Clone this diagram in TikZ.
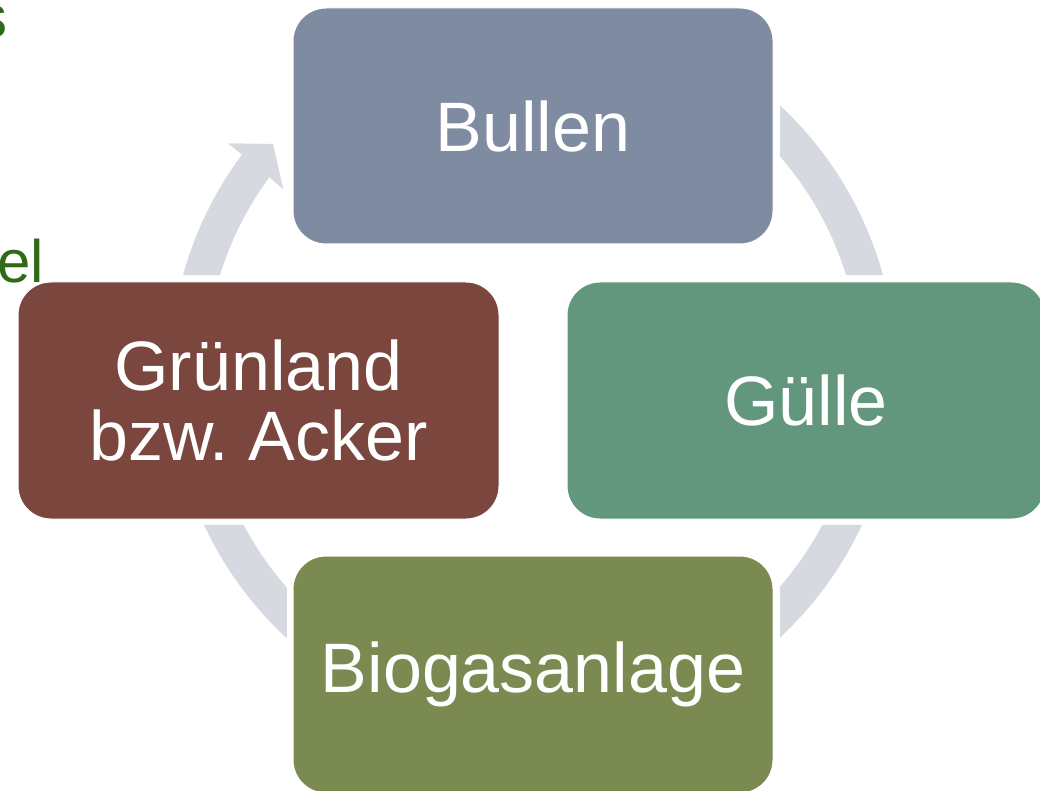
\documentclass[tikz,border=0pt]{standalone}
\usepackage{fontspec}
\setmainfont{Liberation Sans}
\usetikzlibrary{calc}
\definecolor{cBullen}{HTML}{7F8BA0}
\definecolor{cGuelle}{HTML}{62977D}
\definecolor{cGruen}{HTML}{7A463D}
\definecolor{cBio}{HTML}{7A8A50}
\definecolor{cRing}{HTML}{D6DAE0}
\definecolor{cGreenText}{HTML}{2F6A16}
\tikzset{
  box/.style={rectangle, rounded corners=33pt, draw=white, line width=1pt,
    text=white, align=center, inner sep=0pt,
    font=\fontsize{70}{70}\selectfont\frenchspacing},
  ring/.style={fill=cRing, draw=none},
  bgtext/.style={inner sep=0pt, text=cGreenText, font=\fontsize{60}{66}\selectfont}
}
\begin{document}
\begin{tikzpicture}[x=1pt,y=1pt]
\useasboundingbox (0,0) rectangle (1040,-791);
\clip (0,0) rectangle (1040,-791);
% background text fragments
\node[bgtext, anchor=base east] (s) at (8,-38) {s};
\node[bgtext, anchor=base east] (el) at (44,-283) {el};
% ring centre
\coordinate (C) at (533,-371.5);
% segment Bullen -> Guelle
\fill[ring] ($(C)+(47.1:363)$) arc[start angle=47.1, end angle=15.4, radius=363]
  -- ($(C)+(17.1:327.5)$) arc[start angle=17.1, end angle=41.05, radius=327.5] -- cycle;
% segment Guelle -> Biogas
\fill[ring] ($(C)+(-25:363)$) arc[start angle=-25, end angle=-47.1, radius=363]
  -- ($(C)+(-41.05:327.5)$) arc[start angle=-41.05, end angle=-27.95, radius=327.5] -- cycle;
% segment Biogas -> Gruenland
\fill[ring] ($(C)+(205:363)$) arc[start angle=205, end angle=227.3, radius=363]
  -- ($(C)+(221.3:327.5)$) arc[start angle=221.3, end angle=207.95, radius=327.5] -- cycle;
% segment Gruenland -> Bullen with arrow head
\fill[ring] ($(C)+(164.6:363)$) arc[start angle=164.6, end angle=143.3, radius=363]
  -- ($(C)+(143.2:381)$) -- ($(C)+(138.8:345.5)$) -- ($(C)+(143.9:309)$)
  -- ($(C)+(143.6:327.5)$) arc[start angle=143.6, end angle=162.9, radius=327.5] -- cycle;
% boxes
\node[box, fill=cBullen, minimum width=480pt, minimum height=236pt] (bullen) at (533,-126) {Bullen};
\node[box, fill=cGuelle, minimum width=478pt, minimum height=237pt] (guelle) at (806,-400.5) {Gülle};
\node[box, fill=cGruen, minimum width=481pt, minimum height=237pt] (gruen) at (258.5,-400.5) {Grünland\\bzw. Acker};
\node[box, fill=cBio, minimum width=480pt, minimum height=237pt] (bio) at (533,-674.5) {Biogasanlage};
\end{tikzpicture}
\end{document}
